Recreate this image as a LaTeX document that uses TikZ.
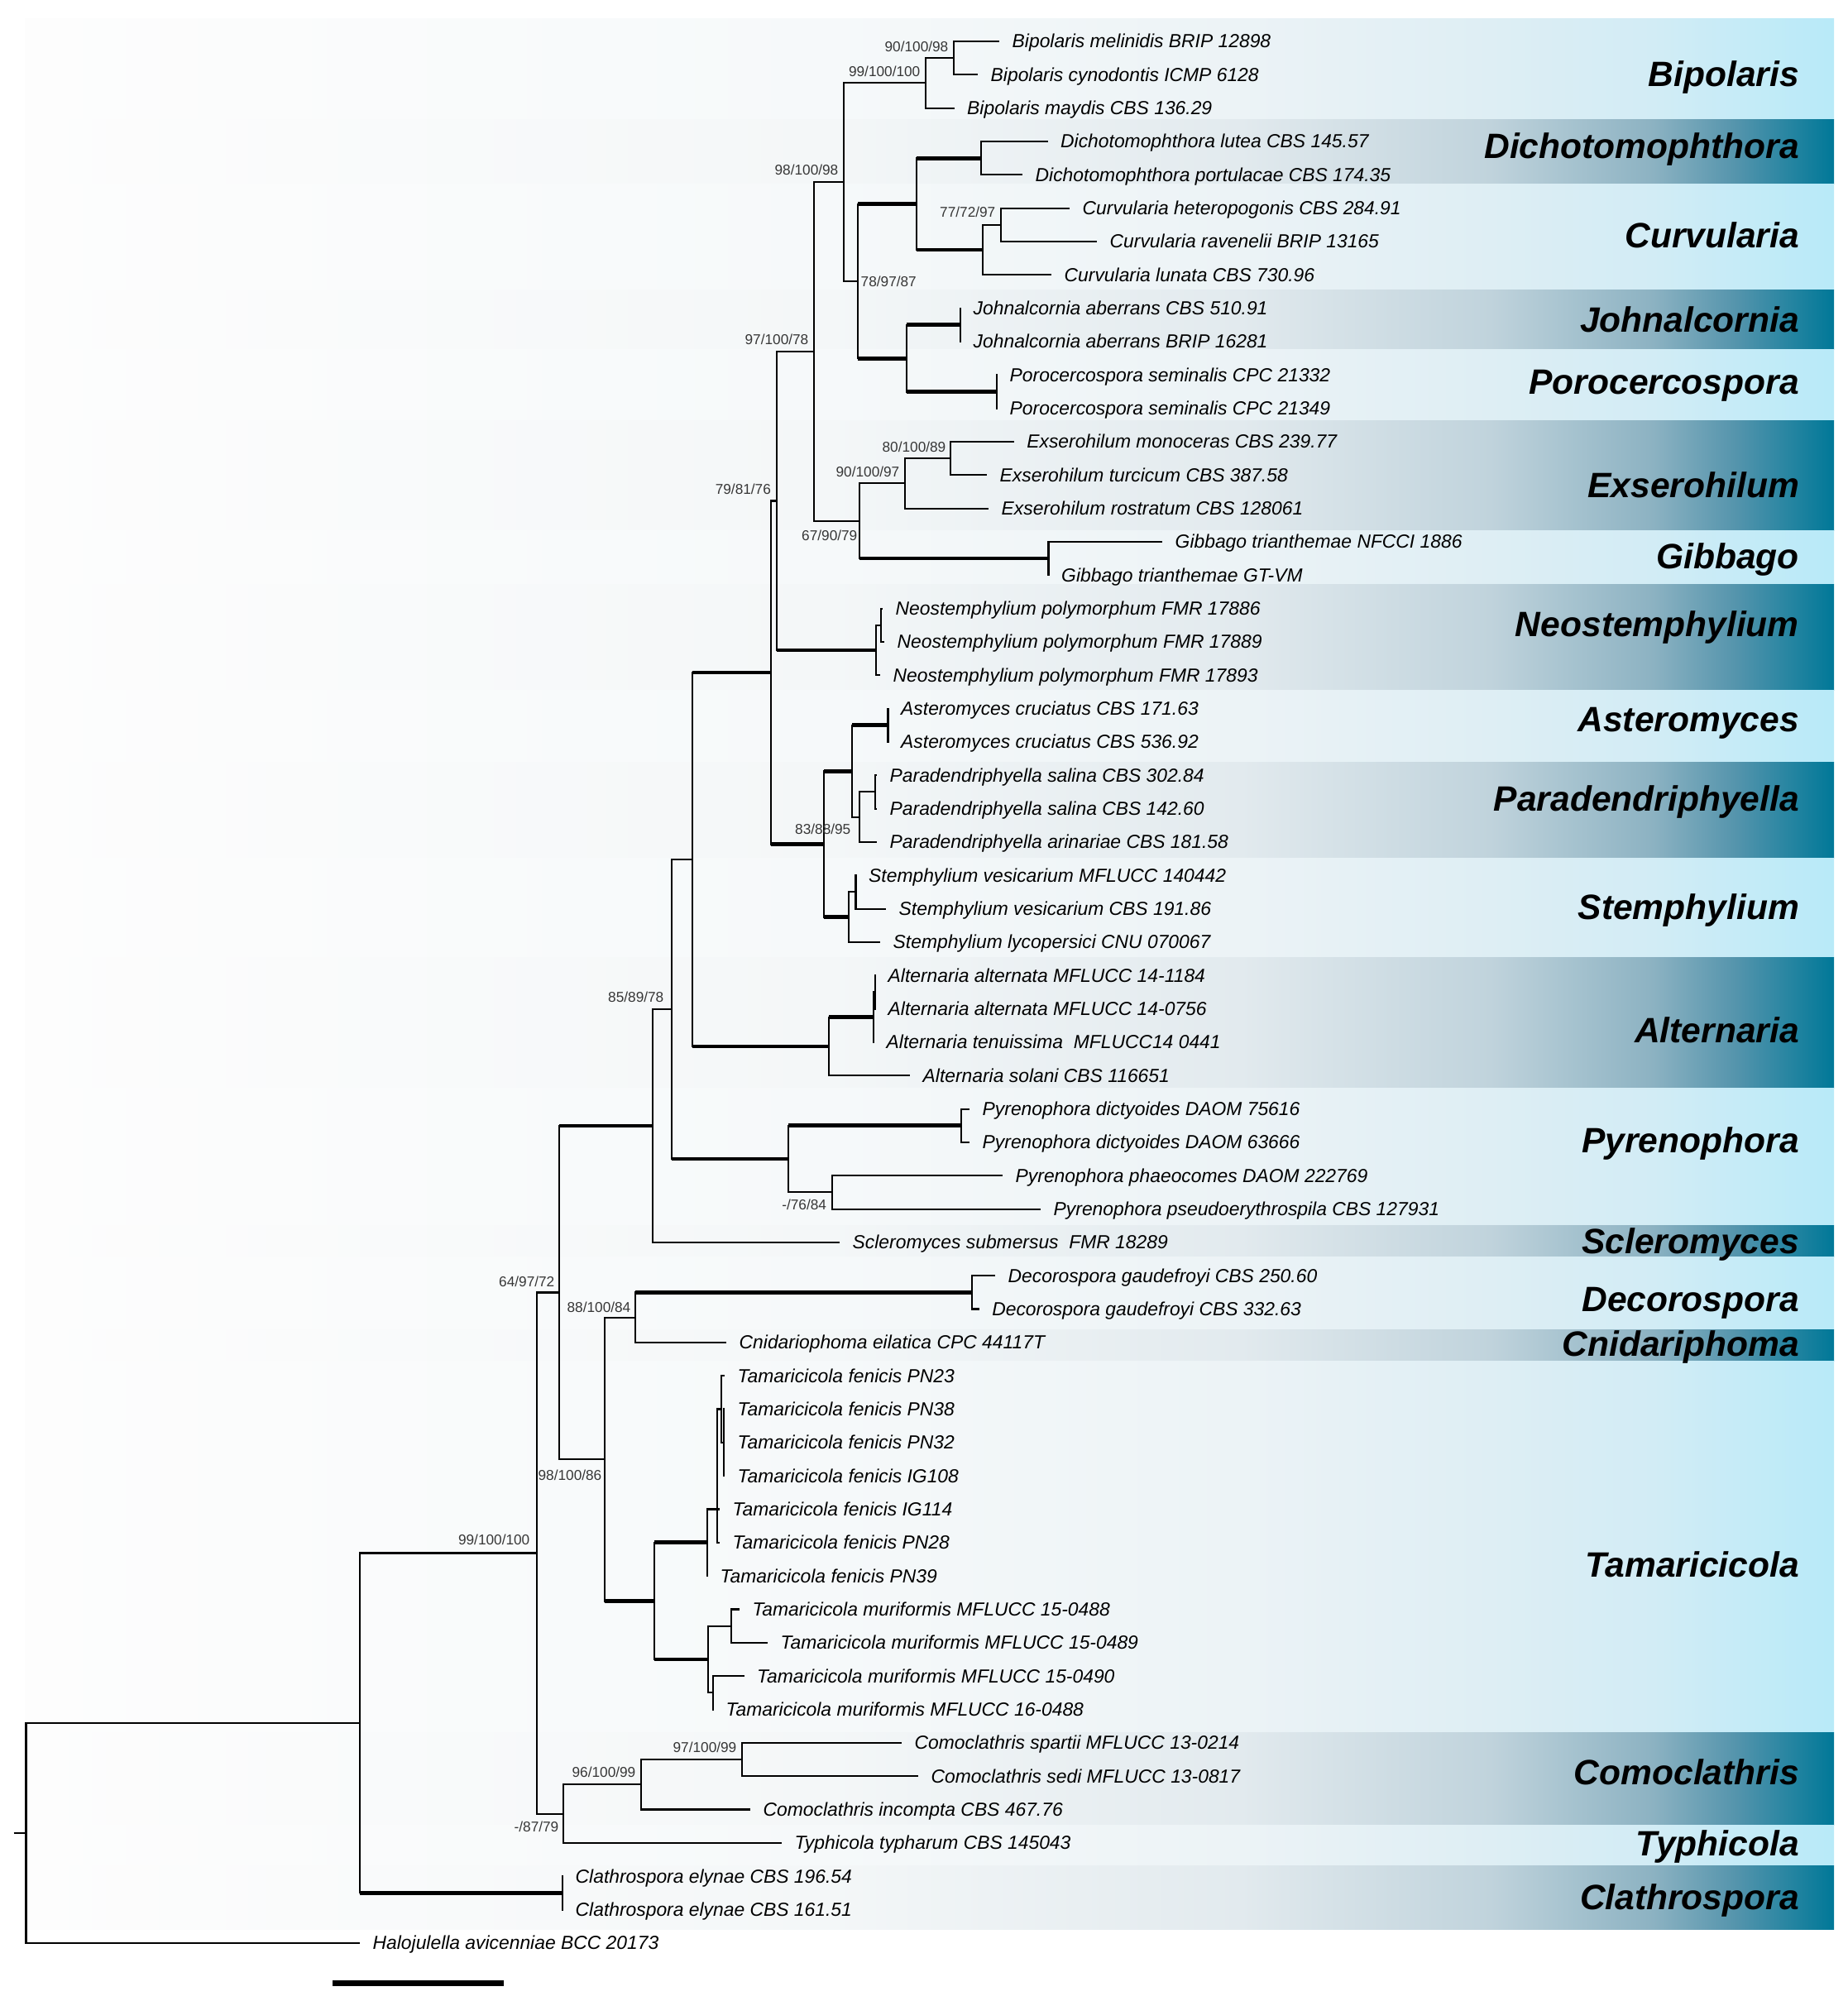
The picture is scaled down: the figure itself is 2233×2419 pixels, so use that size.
\documentclass[tikz,border=0pt]{standalone}
\usepackage{fontspec}
\setmainfont{Liberation Sans}
\usetikzlibrary{calc}
\definecolor{bz}{RGB}{253,253,253}
\definecolor{dka}{RGB}{244,247,248}
\definecolor{dkb}{RGB}{226,234,238}
\definecolor{dkc}{RGB}{192,211,220}
\definecolor{dkd}{RGB}{140,178,194}
\definecolor{dke}{RGB}{84,148,172}
\definecolor{dkf}{RGB}{0,120,152}
\definecolor{lta}{RGB}{246,249,250}
\definecolor{ltb}{RGB}{236,243,246}
\definecolor{ltc}{RGB}{222,238,244}
\definecolor{ltd}{RGB}{210,236,245}
\definecolor{lte}{RGB}{198,235,247}
\definecolor{ltf}{RGB}{184,234,248}
\definecolor{supgray}{RGB}{55,55,55}
\pgfdeclarehorizontalshading{darkband}{100bp}{color(0bp)=(bz); color(25bp)=(bz); color(47.2bp)=(dka); color(58.6bp)=(dkb); color(65.5bp)=(dkc); color(70bp)=(dkd); color(72.3bp)=(dke); color(75bp)=(dkf); color(100bp)=(dkf)}
\pgfdeclarehorizontalshading{lightband}{100bp}{color(0bp)=(bz); color(25bp)=(bz); color(47.2bp)=(lta); color(58.6bp)=(ltb); color(65.5bp)=(ltc); color(70bp)=(ltd); color(72.3bp)=(lte); color(75bp)=(ltf); color(100bp)=(ltf)}
\tikzset{
  tb/.style={line width=0.6pt, draw=black},
  kb/.style={line width=1.35pt, draw=black},
  vl/.style={line width=0.6pt, line cap=rect, draw=black},
  tiplab/.style={anchor=base west, inner sep=0pt, font=\fontsize{6.5}{7}\selectfont\itshape},
  suplab/.style={inner sep=0pt, text=supgray, font=\fontsize{4.9}{5}\selectfont},
  cladelab/.style={anchor=base east, inner sep=0pt, font=\fontsize{12.1}{13}\selectfont\bfseries\itshape}
}
\newcommand\tipx[3]{\coordinate (t#1) at (#2,{50+(#1-1)*40.33});
  \node[tiplab] (L#1) at ($(t#1)+(15,8)$) {#3};}
\newcommand\nd[4]{\path ($(#3)!0.5!(#4)$) coordinate (tmpc);
  \coordinate (xx) at (#2,0); \coordinate (#1) at (xx |- tmpc);
  \draw[vl] (#1 |- #3) -- (#1 |- #4);}
\newcommand\ndy[5]{\coordinate (xx) at (#2,0); \coordinate (#1) at (xx |- #3);
  \draw[vl] (#1 |- #4) -- (#1 |- #5);}
\newcommand\br[3][tb]{\draw[#1] (#2 |- #3) -- (#3);}
\newcommand\supl[5]{\node[suplab, anchor=#1] (#2) at ($(#3)+(#4)$) {#5};}
\newcommand\bandbox[3]{\shade[shading=#1] (30,#2) rectangle (2217,#3);}
\begin{document}
\begin{tikzpicture}[x=0.01cm,y=-0.01cm]
\useasboundingbox (0,0) rectangle (2233,2419);
\fill[white] (0,0) rectangle (2233,2419);
% bands
\bandbox{lightband}{23}{145}
\bandbox{darkband}{145}{223}
\bandbox{lightband}{223}{351}
\bandbox{darkband}{351}{423}
\bandbox{lightband}{423}{508.5}
\bandbox{darkband}{508.5}{641.6}
\bandbox{lightband}{641.6}{707}
\bandbox{darkband}{707}{834}
\bandbox{lightband}{834}{921}
\bandbox{darkband}{921}{1037}
\bandbox{lightband}{1037}{1157}
\bandbox{darkband}{1157}{1315}
\bandbox{lightband}{1315}{1481}
\bandbox{darkband}{1481}{1519}
\bandbox{lightband}{1519}{1607}
\bandbox{darkband}{1607}{1645}
\bandbox{lightband}{1645}{2094}
\bandbox{darkband}{2094}{2206}
\bandbox{lightband}{2206}{2255}
\bandbox{darkband}{2255}{2332}
% clade labels
\node[cladelab] (c1) at (2175.5,105) {Bipolaris};
\node[cladelab] (c2) at (2175.5,192) {Dichotomophthora};
\node[cladelab] (c3) at (2175.5,300) {Curvularia};
\node[cladelab] (c4) at (2175.5,402) {Johnalcornia};
\node[cladelab] (c5) at (2175.5,477) {Porocercospora};
\node[cladelab] (c6) at (2175.5,601.5) {Exserohilum};
\node[cladelab] (c7) at (2175.5,688) {Gibbago};
\node[cladelab] (c8) at (2175.5,769.5) {Neostemphylium};
\node[cladelab] (c9) at (2175.5,884) {Asteromyces};
\node[cladelab] (c10) at (2175.5,980.6) {Paradendriphyella};
\node[cladelab] (c11) at (2175.5,1111.5) {Stemphylium};
\node[cladelab] (c12) at (2175.5,1260.6) {Alternaria};
\node[cladelab] (c13) at (2175.5,1393.7) {Pyrenophora};
\node[cladelab] (c14) at (2175.5,1515.7) {Scleromyces};
\node[cladelab] (c15) at (2175.5,1585) {Decorospora};
\node[cladelab] (c16) at (2175.5,1639) {Cnidariphoma};
\node[cladelab] (c17) at (2175.5,1906) {Tamaricicola};
\node[cladelab] (c18) at (2175.5,2157) {Comoclathris};
\node[cladelab] (c19) at (2175.5,2243) {Typhicola};
\node[cladelab] (c20) at (2175.5,2308.7) {Clathrospora};
% tips
\tipx{1}{1208}{Bipolaris melinidis BRIP 12898}
\tipx{2}{1182}{Bipolaris cynodontis ICMP 6128}
\tipx{3}{1153.5}{Bipolaris maydis CBS 136.29}
\tipx{4}{1266.5}{Dichotomophthora lutea CBS 145.57}
\tipx{5}{1236}{Dichotomophthora portulacae CBS 174.35}
\tipx{6}{1293}{Curvularia heteropogonis CBS 284.91}
\tipx{7}{1326}{Curvularia ravenelii BRIP 13165}
\tipx{8}{1271}{Curvularia lunata CBS 730.96}
\tipx{9}{1161}{Johnalcornia aberrans CBS 510.91}
\tipx{10}{1161}{Johnalcornia aberrans BRIP 16281}
\tipx{11}{1205}{Porocercospora seminalis CPC 21332}
\tipx{12}{1205}{Porocercospora seminalis CPC 21349}
\tipx{13}{1225.6}{Exserohilum monoceras CBS 239.77}
\tipx{14}{1193}{Exserohilum turcicum CBS 387.58}
\tipx{15}{1195}{Exserohilum rostratum CBS 128061}
\tipx{16}{1405}{Gibbago trianthemae NFCCI 1886}
\tipx{17}{1267.5}{Gibbago trianthemae GT-VM}
\tipx{18}{1067}{Neostemphylium polymorphum FMR 17886}
\tipx{19}{1069}{Neostemphylium polymorphum FMR 17889}
\tipx{20}{1064}{Neostemphylium polymorphum FMR 17893}
\tipx{21}{1073.5}{Asteromyces cruciatus CBS 171.63}
\tipx{22}{1073.5}{Asteromyces cruciatus CBS 536.92}
\tipx{23}{1060}{Paradendriphyella salina CBS 302.84}
\tipx{24}{1060}{Paradendriphyella salina CBS 142.60}
\tipx{25}{1060}{Paradendriphyella arinariae CBS 181.58}
\tipx{26}{1034.5}{Stemphylium vesicarium MFLUCC 140442}
\tipx{27}{1071}{Stemphylium vesicarium CBS 191.86}
\tipx{28}{1064}{Stemphylium lycopersici CNU 070067}
\tipx{29}{1058}{Alternaria alternata MFLUCC 14-1184}
\tipx{30}{1058}{Alternaria alternata MFLUCC 14-0756}
\tipx{31}{1056}{Alternaria tenuissima\ \ MFLUCC14 0441}
\tipx{32}{1100}{Alternaria solani CBS 116651}
\tipx{33}{1172}{Pyrenophora dictyoides DAOM 75616}
\tipx{34}{1172}{Pyrenophora dictyoides DAOM 63666}
\tipx{35}{1212}{Pyrenophora phaeocomes DAOM 222769}
\tipx{36}{1258}{Pyrenophora pseudoerythrospila CBS 127931}
\tipx{37}{1015}{Scleromyces submersus\ \ FMR 18289}
\tipx{38}{1203}{Decorospora gaudefroyi CBS 250.60}
\tipx{39}{1183.6}{Decorospora gaudefroyi CBS 332.63}
\tipx{40}{878}{Cnidariophoma eilatica CPC 44117T}
\tipx{41}{876}{Tamaricicola fenicis PN23}
\tipx{42}{876}{Tamaricicola fenicis PN38}
\tipx{43}{876}{Tamaricicola fenicis PN32}
\tipx{44}{876}{Tamaricicola fenicis IG108}
\tipx{45}{870}{Tamaricicola fenicis IG114}
\tipx{46}{870}{Tamaricicola fenicis PN28}
\tipx{47}{855}{Tamaricicola fenicis PN39}
\tipx{48}{893.8}{Tamaricicola muriformis MFLUCC 15-0488}
\tipx{49}{928}{Tamaricicola muriformis MFLUCC 15-0489}
\tipx{50}{899.5}{Tamaricicola muriformis MFLUCC 15-0490}
\tipx{51}{862}{Tamaricicola muriformis MFLUCC 16-0488}
\tipx{52}{1090}{Comoclathris spartii MFLUCC 13-0214}
\tipx{53}{1110}{Comoclathris sedi MFLUCC 13-0817}
\tipx{54}{907}{Comoclathris incompta CBS 467.76}
\tipx{55}{945}{Typhicola typharum CBS 145043}
\tipx{56}{680}{Clathrospora elynae CBS 196.54}
\tipx{57}{680}{Clathrospora elynae CBS 161.51}
\tipx{58}{435}{Halojulella avicenniae BCC 20173}
% internal nodes
\nd{nB1}{1153}{t1}{t2} \br{nB1}{t1} \br{nB1}{t2}
\nd{nB2}{1119}{nB1}{t3} \br{nB2}{nB1} \br{nB2}{t3}
\nd{nD}{1186}{t4}{t5} \br{nD}{t4} \br{nD}{t5}
\nd{nC77}{1210}{t6}{t7} \br{nC77}{t6} \br{nC77}{t7}
\nd{nCu}{1188}{nC77}{t8} \br{nCu}{nC77} \br{nCu}{t8}
\nd{nDC}{1108}{nD}{nCu} \br[kb]{nDC}{nD} \br[kb]{nDC}{nCu}
\nd{nJ}{1161}{t9}{t10}
\nd{nP}{1205}{t11}{t12}
\nd{nJP}{1096}{nJ}{nP} \br[kb]{nJP}{nJ} \br[kb]{nJP}{nP}
\nd{n78}{1037}{nDC}{nJP} \br[kb]{n78}{nDC} \br[kb]{n78}{nJP}
\nd{n98}{1020}{nB2}{n78} \br{n98}{nB2} \br{n98}{n78}
\nd{nE80}{1149}{t13}{t14} \br{nE80}{t13} \br{nE80}{t14}
\nd{nE90}{1094}{nE80}{t15} \br{nE90}{nE80} \br{nE90}{t15}
\nd{nG}{1267.5}{t16}{t17} \br{nG}{t16}
\nd{n67}{1039}{nE90}{nG} \br{n67}{nE90} \br[kb]{n67}{nG}
\nd{n97}{984}{n98}{n67} \br{n97}{n98} \br{n97}{n67}
\nd{nN1}{1065}{t18}{t19} \br{nN1}{t18} \br{nN1}{t19}
\nd{nN}{1059}{nN1}{t20} \br{nN}{nN1} \br{nN}{t20}
\nd{nX}{938.6}{n97}{nN} \br{nX}{n97} \br[kb]{nX}{nN}
\nd{nA}{1073.5}{t21}{t22}
\nd{nPs}{1058}{t23}{t24} \br{nPs}{t23} \br{nPs}{t24}
\nd{nPa}{1039}{nPs}{t25} \br{nPa}{nPs} \br{nPa}{t25}
\nd{nAP}{1030}{nA}{nPa} \br[kb]{nAP}{nA} \br{nAP}{nPa}
\nd{nS1}{1034.5}{t26}{t27} \br{nS1}{t27}
\nd{nS}{1026}{nS1}{t28} \br{nS}{nS1} \br{nS}{t28}
\nd{n83}{996}{nAP}{nS} \br[kb]{n83}{nAP} \br[kb]{n83}{nS}
\nd{nY}{931.7}{nX}{n83} \br{nY}{nX} \br[kb]{nY}{n83}
\nd{nAl1}{1058}{t29}{t30}
\nd{nAl2}{1056}{nAl1}{t31} \br{nAl2}{nAl1}
\nd{nAl}{1001.7}{nAl2}{t32} \br[kb]{nAl}{nAl2} \br{nAl}{t32}
\nd{nZ}{837}{nY}{nAl} \br[kb]{nZ}{nY} \br[kb]{nZ}{nAl}
\nd{nPd}{1162.4}{t33}{t34} \br{nPd}{t33} \br{nPd}{t34}
\nd{nP76}{1005.7}{t35}{t36} \br{nP76}{t35} \br{nP76}{t36}
\nd{nPy}{953}{nPd}{nP76} \br[kb]{nPy}{nPd} \br{nPy}{nP76}
\nd{nW}{812}{nZ}{nPy} \br{nW}{nZ} \br[kb]{nW}{nPy}
\nd{nV}{789}{nW}{t37} \br{nV}{nW} \br{nV}{t37}
\nd{nDe}{1175}{t38}{t39} \br{nDe}{t38} \br{nDe}{t39}
\nd{n88}{768}{nDe}{t40} \br[kb]{n88}{nDe} \br{n88}{t40}
\nd{nGb}{875}{t42}{t44} \br{nGb}{t42} \br{nGb}{t43} \br{nGb}{t44}
\nd{nGa}{872}{t41}{nGb} \br{nGa}{t41} \br{nGa}{nGb}
\ndy{nH}{866.7}{t45}{nGa}{t46} \br{nH}{nGa} \br{nH}{t45} \br{nH}{t46}
\nd{nF}{855}{nH}{t47} \br{nF}{nH}
\nd{nMa}{884}{t48}{t49} \br{nMa}{t48} \br{nMa}{t49}
\nd{nMb}{862}{t50}{t51} \br{nMb}{t50}
\nd{nM}{856}{nMa}{nMb} \br{nM}{nMa} \br{nM}{nMb}
\nd{nT}{791}{nF}{nM} \br[kb]{nT}{nF} \br[kb]{nT}{nM}
\nd{n98b}{731}{n88}{nT} \br{n98b}{n88} \br[kb]{n98b}{nT}
\nd{nC}{676}{nV}{n98b} \br[kb]{nC}{nV} \br{nC}{n98b}
\nd{nCo97}{897}{t52}{t53} \br{nCo97}{t52} \br{nCo97}{t53}
\nd{nCo96}{775}{nCo97}{t54} \br{nCo96}{nCo97} \br{nCo96}{t54}
\nd{nD87}{681}{nCo96}{t55} \br{nD87}{nCo96} \br{nD87}{t55}
\nd{nB}{649}{nC}{nD87} \br{nB}{nC} \br{nB}{nD87}
\nd{nCl}{680}{t56}{t57}
\nd{nA0}{435}{nB}{nCl} \br{nA0}{nB} \br[kb]{nA0}{nCl}
\nd{nR}{31.5}{nA0}{t58} \br{nR}{nA0} \br{nR}{t58}
\coordinate (xr) at (16.6,0);
\coordinate (rs) at (xr |- nR);
\draw[tb] (rs) -- (nR);
% support values
\supl{base east}{s1}{nB1}{-6,-8}{90/100/98}
\supl{base east}{s2}{nB2}{-6,-8}{99/100/100}
\supl{base east}{s3}{n98}{-6,-9}{98/100/98}
\supl{base east}{s4}{nC77}{-6,-9}{77/72/97}
\supl{base west}{s5}{n78}{3,7}{78/97/87}
\supl{base east}{s6}{n97}{-6,-8}{97/100/78}
\supl{base east}{s7}{nE80}{-5,-8}{80/100/89}
\supl{base east}{s8}{nE90}{-6,-8}{90/100/97}
\supl{base east}{s9}{n67}{-2,24}{67/90/79}
\supl{base east}{s10}{nX}{-6,-8}{79/81/76}
\supl{base east}{s11}{n83}{33,-12}{83/88/95}
\supl{base east}{s12}{nW}{-9,-9}{85/89/78}
\supl{base east}{s13}{nP76}{-6,21}{-/76/84}
\supl{base east}{s14}{nC}{-5,-7}{64/97/72}
\supl{base east}{s15}{n88}{-5,-6}{88/100/84}
\supl{base east}{s16}{n98b}{-3,25}{98/100/86}
\supl{base east}{s17}{nB}{-8,-10}{99/100/100}
\supl{base east}{s18}{nCo97}{-6,-9}{97/100/99}
\supl{base east}{s19}{nCo96}{-6,-9}{96/100/99}
\supl{base east}{s20}{nD87}{-5,22}{-/87/79}
% scale bar
\coordinate (sb1) at (402,2397);
\coordinate (sb2) at (609,2397);
\draw[line width=2pt] (sb1) -- (sb2);
\end{tikzpicture}
\end{document}
